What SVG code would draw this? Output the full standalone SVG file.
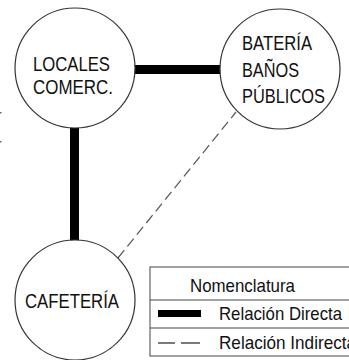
<svg xmlns="http://www.w3.org/2000/svg" width="349" height="360" viewBox="0 0 349 360">
<style>
.node{fill:#fff;stroke:#333;stroke-width:1.2}
.lbl{font-family:"Liberation Sans",Arial,sans-serif;font-size:21px;fill:#111}
.leg{font-family:"Liberation Sans",Arial,sans-serif;font-size:18.5px;fill:#111}
.direct{stroke:#000;stroke-width:9;fill:none}
.indirect{stroke:#555;stroke-width:1.2;fill:none;stroke-dasharray:10 5}
</style>
<rect width="349" height="360" fill="#fff"/>
<g id="connectors">
<line class="direct" x1="134" y1="69.5" x2="221" y2="69.5"/>
<line class="direct" x1="74.5" y1="127" x2="74.5" y2="241"/>
<line class="indirect" x1="118" y1="258" x2="236" y2="112"/>
</g>
<g id="locales">
<circle class="node" cx="75" cy="68" r="60"/>
<text class="lbl" x="33" y="70.5" textLength="77" lengthAdjust="spacingAndGlyphs">LOCALES</text>
<text class="lbl" x="33" y="94" textLength="80" lengthAdjust="spacingAndGlyphs">COMERC.</text>
</g>
<g id="banos">
<circle class="node" cx="280" cy="69" r="60"/>
<text class="lbl" x="242" y="50" textLength="70" lengthAdjust="spacingAndGlyphs">BATERÍA</text>
<text class="lbl" x="242" y="76.5" textLength="57" lengthAdjust="spacingAndGlyphs">BAÑOS</text>
<text class="lbl" x="242" y="103" textLength="83" lengthAdjust="spacingAndGlyphs">PÚBLICOS</text>
</g>
<g id="cafeteria">
<circle class="node" cx="75" cy="300" r="60"/>
<text class="lbl" x="25" y="308" textLength="94" lengthAdjust="spacingAndGlyphs">CAFETERÍA</text>
</g>
<g id="legend">
<rect x="150" y="267" width="210" height="89" fill="#fff" stroke="#444" stroke-width="1"/>
<line x1="150" y1="300" x2="349" y2="300" stroke="#444" stroke-width="1"/>
<line x1="150" y1="328" x2="349" y2="328" stroke="#444" stroke-width="1"/>
<text class="leg" x="190" y="292" textLength="105" lengthAdjust="spacingAndGlyphs">Nomenclatura</text>
<rect x="158" y="310" width="43" height="7" fill="#000"/>
<text class="leg" x="219" y="320" textLength="123" lengthAdjust="spacingAndGlyphs">Relación Directa</text>
<line x1="158" y1="343" x2="175" y2="343" stroke="#222" stroke-width="1.2"/>
<line x1="181" y1="343" x2="200" y2="343" stroke="#222" stroke-width="1.2"/>
<text class="leg" x="219" y="349" textLength="137" lengthAdjust="spacingAndGlyphs">Relación Indirecta</text>
</g>
<rect x="0" y="112" width="1.5" height="1.5" fill="#666"/>
<rect x="0" y="141" width="1.5" height="1.5" fill="#666"/>
</svg>
